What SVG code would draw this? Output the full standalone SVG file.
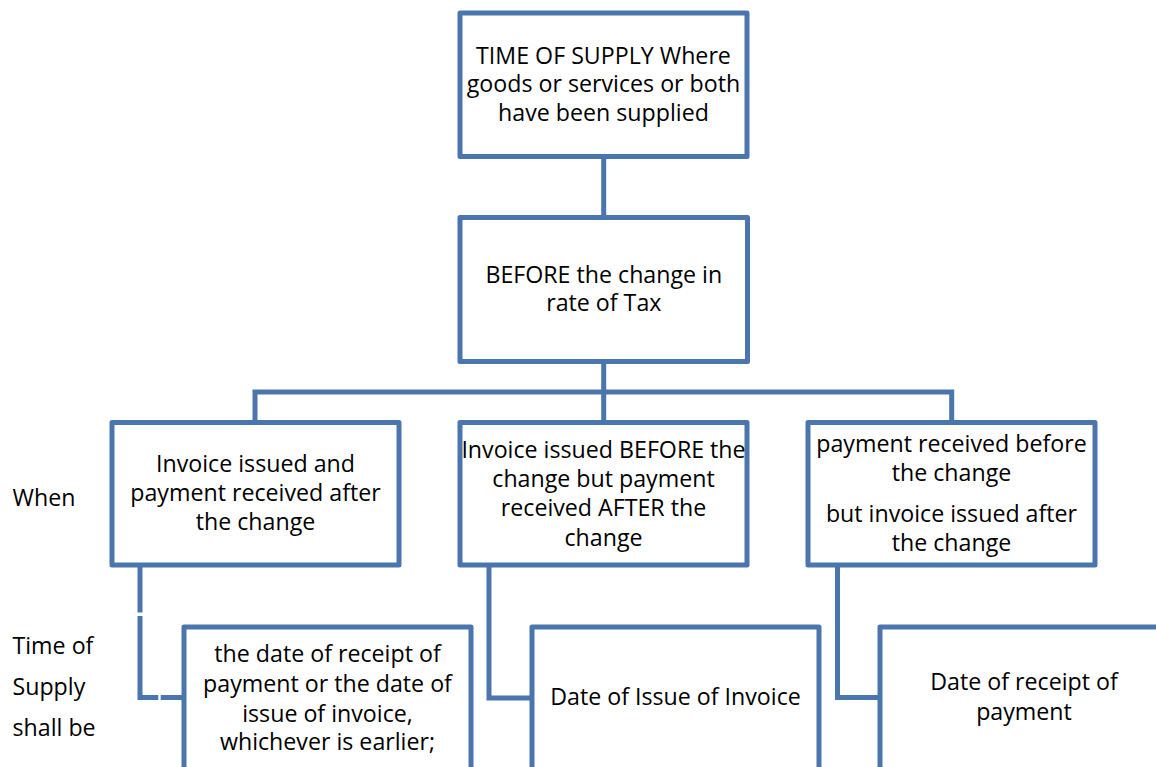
<svg xmlns="http://www.w3.org/2000/svg" width="1156" height="767" viewBox="0 0 1156 767">
<style>
.box{fill:#fff;stroke:#4A76AD;stroke-width:5;stroke-linejoin:round}
.con{fill:none;stroke:#4A76AD;stroke-width:5;stroke-linejoin:miter}
text{font-family:"Open Sans","Noto Sans",sans-serif;font-size:23.2px;fill:#000}
.c{text-anchor:middle}
</style>
<rect width="1156" height="767" fill="#fff"/>
<g id="connectors">
<path class="con" d="M603.7 156 V217.5"/>
<path class="con" d="M603.7 361.7 V422.5"/>
<path class="con" d="M255 422.5 V392 H951.7 V422.5"/>
<path class="con" d="M140 565 V612.5 M140 616 V697.5 H158.3 M160.7 697.5 H184"/>
<path class="con" d="M489 565 V698 H532"/>
<path class="con" d="M837.5 565 V697.5 H880"/>
</g>
<g id="n-top">
<rect class="box" x="460" y="13" width="287" height="143.5"/>
<text class="c" x="603.5" y="64">TIME OF SUPPLY Where</text>
<text class="c" x="603.5" y="92">goods or services or both</text>
<text class="c" x="603.5" y="120.5">have been supplied</text>
</g>
<g id="n-before">
<rect class="box" x="460" y="217.5" width="287.5" height="144"/>
<text class="c" x="603.8" y="282.7">BEFORE the change in</text>
<text class="c" x="603.8" y="310.7">rate of Tax</text>
</g>
<g id="n-when1">
<rect class="box" x="112" y="422.5" width="287" height="142.5"/>
<text class="c" x="255.5" y="471.7">Invoice issued and</text>
<text class="c" x="255.5" y="500.7">payment received after</text>
<text class="c" x="255.5" y="530">the change</text>
</g>
<g id="n-when2">
<rect class="box" x="460" y="422.5" width="287" height="142.5"/>
<text class="c" x="603.5" y="458.3">Invoice issued BEFORE the</text>
<text class="c" x="603.5" y="487.3">change but payment</text>
<text class="c" x="603.5" y="516">received AFTER the</text>
<text class="c" x="603.5" y="545.7">change</text>
</g>
<g id="n-when3">
<rect class="box" x="808" y="422.5" width="287" height="142.5"/>
<text class="c" x="951.5" y="451.7">payment received before</text>
<text class="c" x="951.5" y="480.7">the change</text>
<text class="c" x="951.5" y="521.7">but invoice issued after</text>
<text class="c" x="951.5" y="550.7">the change</text>
</g>
<g id="n-tos1">
<rect class="box" x="184" y="627" width="287" height="200"/>
<text class="c" x="327.5" y="662.3">the date of receipt of</text>
<text class="c" x="327.5" y="691.7">payment or the date of</text>
<text class="c" x="327.5" y="721.7">issue of invoice,</text>
<text class="c" x="327.5" y="750">whichever is earlier;</text>
</g>
<g id="n-tos2">
<rect class="box" x="532" y="627" width="287" height="200"/>
<text class="c" x="675.5" y="705">Date of Issue of Invoice</text>
</g>
<g id="n-tos3">
<rect class="box" x="880" y="627" width="288" height="200"/>
<text class="c" x="1024" y="690">Date of receipt of</text>
<text class="c" x="1024" y="720">payment</text>
</g>
<g id="labels">
<text x="12.5" y="505.7">When</text>
<text x="12.5" y="654">Time of</text>
<text x="12.5" y="695">Supply</text>
<text x="12.5" y="736">shall be</text>
</g>
</svg>
